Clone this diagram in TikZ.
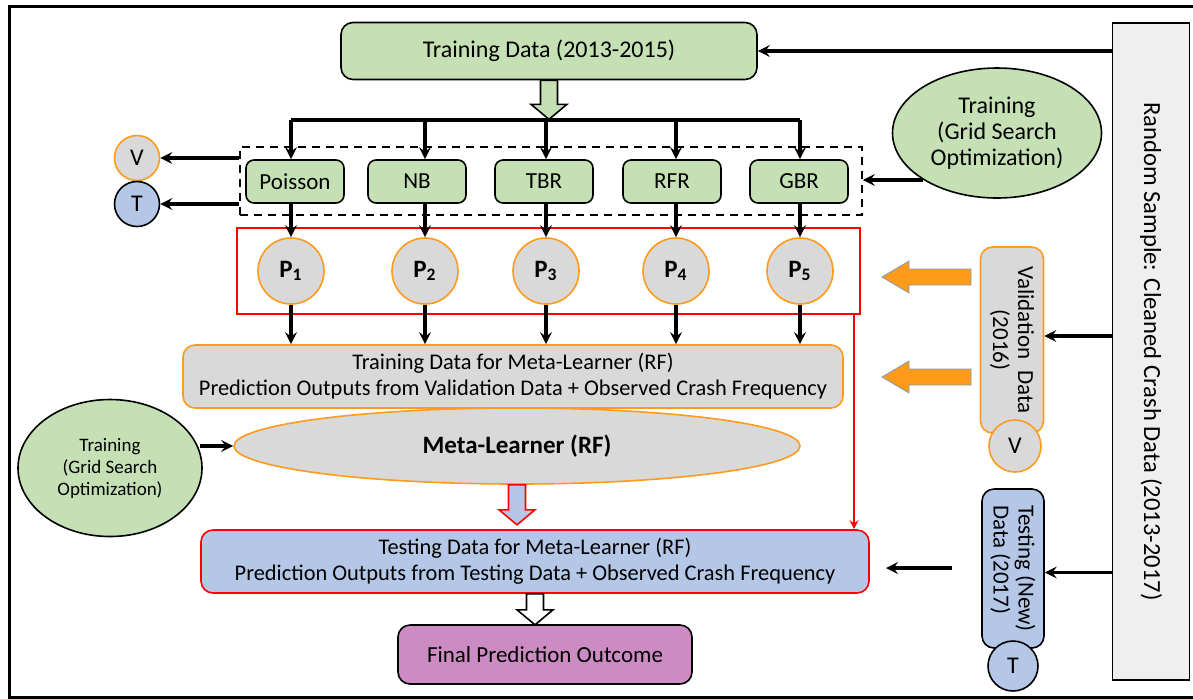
\documentclass[tikz,border=0pt]{standalone}
\usepackage{fontspec}
\setmainfont{Carlito}
\usepackage{xcolor}
\usetikzlibrary{shapes.geometric, arrows, positioning, calc}

\definecolor{lgreen}{HTML}{C5E0B4}
\definecolor{lgray}{HTML}{D9D9D9}
\definecolor{lorange}{HTML}{FF9A1A}
\definecolor{lblue}{HTML}{B4C7E7}
\definecolor{lpurple}{HTML}{CD8BC3}
\definecolor{sgray}{HTML}{EFEFEF}
\definecolor{edgeblue}{HTML}{7F9BB8}

\tikzset{
    pics/fatdown/.style={code={
        \draw[pic actions] (-8.5,0) -- (8.5,0) -- (8.5,#1-15) -- (18,#1-15) -- (0,#1) -- (-18,#1-15) -- (-8.5,#1-15) -- cycle;}},
    pics/fatleft/.style={code={
        \draw[pic actions] (0,-8) -- (0,8) -- (-#1+27,8) -- (-#1+27,16) -- (-#1,0) -- (-#1+27,-16) -- (-#1+27,-8) -- cycle;}}
}

\begin{document}
\begin{tikzpicture}[
    x=0.5pt, y=-0.5pt,
    font=\fontsize{11.5}{13.5}\selectfont,
    model/.style={rectangle, rounded corners=4pt, draw, thick, fill=lgreen, minimum width=49pt, minimum height=21.5pt},
    pnode/.style={circle, draw=lorange, thick, fill=lgray, minimum size=33pt, inner sep=0pt, font=\fontsize{12.5}{14}\selectfont\bfseries},
    vt/.style={circle, draw, thick, minimum size=22.5pt, inner sep=0pt, font=\fontsize{12}{13}\selectfont},
    train/.style={ellipse, draw, thick, fill=lgreen, align=center, inner sep=0pt},
    databox/.style={rectangle, rounded corners=6pt, thick, align=center, font=\fontsize{11.2}{13}\selectfont},
    sidebox/.style={rectangle, rounded corners=6pt, thick, rotate=-90, font=\fontsize{11.5}{12.5}\selectfont},
    arrow/.style={->, >=stealth, line width=1.6pt},
    redarrow/.style={->, >=stealth, red, line width=1pt}
]

\useasboundingbox (0,0) rectangle (1193,698);
\draw[line width=1.5pt] (9,6) rectangle (1210,697);

% input data
\node[rectangle, rounded corners=6pt, draw, thick, fill=lgreen, minimum width=208pt, minimum height=28.5pt, font=\fontsize{12}{14}\selectfont] (train) at (549,51) {Training Data (2013-2015)};
\node[rectangle, draw, thick, fill=sgray, rotate=-90, minimum width=328.5pt, minimum height=38.5pt, font=\fontsize{12.3}{14}\selectfont] (rs) at (1151,351.5) {Random Sample: Cleaned Crash Data (2013-2017)};
\node[sidebox, draw=lorange, fill=lgray, minimum width=93pt, minimum height=31.5pt, align=center] (valid) at (1012,340) {Validation~~Data\\(2016)};
\node[sidebox, draw, fill=lblue, minimum width=79.5pt, minimum height=31pt, align=left] (test) at (1013,568.5) {Testing (New)\\Data (2017)};
\node[vt, draw=lorange, fill=lgray, minimum size=26pt] (v2) at (1015,446) {V};
\node[vt, fill=lblue, minimum size=25pt] (t2) at (1013,666) {T};

% base learners
\coordinate (split) at (549,120);
\node[model] (poisson) at (295,181.5) {Poisson};
\node[model] (nb) at (417,181.5) {NB};
\node[model] (tbr) at (544,181.5) {TBR};
\node[model] (rfr) at (672,181.5) {RFR};
\node[model] (gbr) at (799,181.5) {GBR};
\node[draw, thick, dash pattern=on 4pt off 3pt, minimum width=311pt, minimum height=34pt] (models) at (551,181) {};
\node[vt, draw=lorange, fill=lgray] (v1) at (137,158) {V};
\node[vt, fill=lblue] (t1) at (137,204) {T};
\node[train, minimum width=104.5pt, minimum height=65pt, font=\fontsize{12}{13}\selectfont] (toptrain) at (997,133) {Training\\(Grid Search\\Optimization)};

% predictions
\node[draw=red, line width=1pt, minimum width=311.5pt, minimum height=43pt] (preds) at (548.5,271) {};
\node[pnode] (p1) at (291,271) {P\textsubscript{1}};
\node[pnode] (p2) at (425,271) {P\textsubscript{2}};
\node[pnode] (p3) at (546,271) {P\textsubscript{3}};
\node[pnode] (p4) at (676,271) {P\textsubscript{4}};
\node[pnode] (p5) at (800,271) {P\textsubscript{5}};

% meta learner
\node[databox, draw=lorange, fill=lgray, minimum width=330pt, minimum height=31.5pt] (metatr) at (513,376.5) {Training Data for Meta-Learner (RF)\\Prediction Outputs from Validation Data + Observed Crash Frequency};
\node[ellipse, draw=lorange, thick, fill=lgray, minimum width=283pt, minimum height=38pt, font=\fontsize{12.5}{14}\selectfont\bfseries] (meta) at (517,446) {Meta-Learner (RF)};
\node[train, minimum width=92pt, minimum height=68.5pt, font=\fontsize{9.5}{11}\selectfont] (lefttrain) at (110,468) {Training\\(Grid Search\\Optimization)};
\node[databox, draw=red, fill=lblue, minimum width=334pt, minimum height=31.5pt] (testmeta) at (535,561.5) {Testing Data for Meta-Learner (RF)\\Prediction Outputs from Testing Data + Observed Crash Frequency};
\node[rectangle, rounded corners=6pt, draw, thick, fill=lpurple, minimum width=147pt, minimum height=29.5pt, font=\fontsize{11.5}{13.5}\selectfont] (final) at (545,654.5) {Final Prediction Outcome};

% connectors
\pic[draw, thick, fill=lgreen] at (train.south) {fatdown=39};
\draw[line width=1.6pt] (split -| p1) -- (split -| p5);
\foreach \m/\p in {poisson/p1, nb/p2, tbr/p3, rfr/p4, gbr/p5} {
    \draw[arrow] (split -| \p) -- (\p |- \m.north);
    \draw[arrow] (\p |- \m.south) -- (\p.north);
    \draw[arrow] (\p.south) -- (\p |- metatr.north);
}
\draw[arrow] (train.east -| rs.south) -- (train.east);
\draw[arrow] ([yshift=2pt]valid.north -| rs.south) -- ([yshift=2pt]valid.north);
\draw[arrow] ([yshift=-2pt]test.north -| rs.south) -- ([yshift=-2pt]test.north);
\draw[arrow] (v1 -| models.west) -- (v1.east);
\draw[arrow] (t1 -| models.west) -- (t1.east);
\coordinate (tt) at (923,180);
\draw[arrow] (tt) -- (tt -| models.east);
\coordinate (lt) at (200,446);
\draw[arrow] (lt) -- (meta.west);
\coordinate (ts) at (952,568);
\draw[arrow] (ts) -- ++(-66,0);
\draw[redarrow] ([xshift=-3.5pt]preds.south east) -- ([xshift=-3.5pt]preds.south east |- testmeta.north);
\pic[draw=edgeblue, fill=lorange] at (971,277) {fatleft=89};
\pic[draw=edgeblue, fill=lorange] at (971,377) {fatleft=89};
\pic[draw=red, thick, fill=lblue] at (meta.south) {fatdown=40};
\pic[draw, thick, fill=white] at (testmeta.south) {fatdown=31};

\end{tikzpicture}
\end{document}
